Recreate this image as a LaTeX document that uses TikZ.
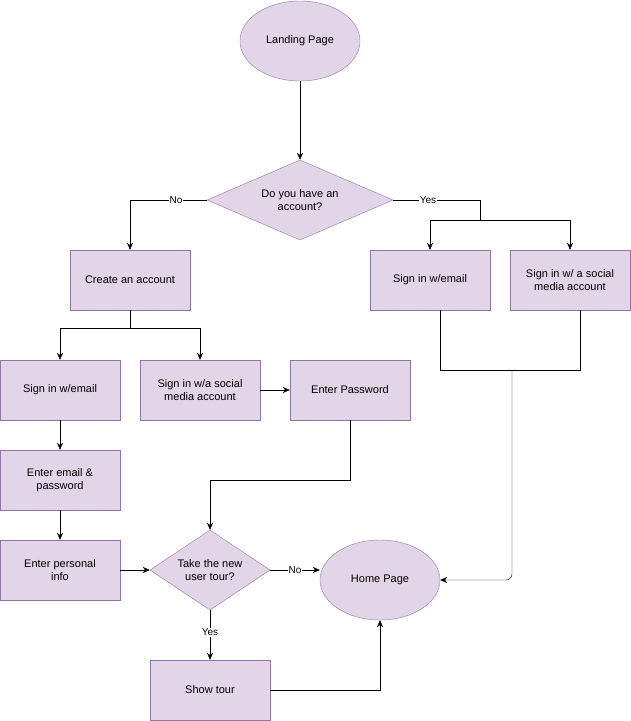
\documentclass[tikz,border=0pt]{standalone}
\usepackage{fontspec}
\setmainfont{Liberation Sans}
\usetikzlibrary{shapes.geometric,positioning,calc,arrows.meta}

\definecolor{boxfill}{HTML}{E1D5E7}
\definecolor{boxline}{HTML}{9673A6}

\tikzset{
  base/.style={draw=boxline, fill=boxfill, align=center, font=\fontsize{11}{13}\selectfont},
  box/.style={base, rectangle, minimum width=120pt, minimum height=60pt, inner sep=2pt},
  term/.style={base, ellipse, minimum width=120pt, minimum height=80pt},
  ask/.style={base, diamond, aspect=1.5, inner sep=0pt},
  link/.style={draw, -{Stealth[length=7pt,width=6pt]}},
  tag/.style={fill=white, inner sep=1pt, font=\fontsize{10}{12}\selectfont}
}

\begin{document}
\begin{tikzpicture}[x=1pt, y=-1pt]
  \useasboundingbox (0,0) rectangle (631,721);

  % nodes
  \node[term] (land) at (300,41) {Landing Page};
  \node[ask, minimum width=186pt, minimum height=80pt] (have) at (300,200) {Do you have an\\account?};
  \node[box] (create) at (130,280) {Create an account};
  \node[box] (inmail) at (430,280) {Sign in w/email};
  \node[box] (insocial) at (570,280) {Sign in w/ a social\\media account};
  \node[box] (newmail) at (60,390) {Sign in w/email};
  \node[box] (newsocial) at (200,390) {Sign in w/a social\\media account};
  \node[box] (pass) at (350,390) {Enter Password};
  \node[box] (email) at (60,480) {Enter email \&\\password};
  \node[box] (info) at (60,570) {Enter personal\\info};
  \node[ask, minimum width=120pt, minimum height=80pt] (tour) at (210,570) {Take the new\\user tour?};
  \node[term] (home) at (380,580) {Home Page};
  \node[box] (show) at (210,690) {Show tour};

  % connectors
  \draw[link] (land) -- (have);
  \draw[link] (have.west) -| node[tag, pos=0.2] {No} (create.north);
  \draw (have.east) -| node[tag, pos=0.2] {Yes} (480,220) coordinate (split);
  \draw[link] (split) -| (inmail.north);
  \draw[link] (split) -| (insocial.north);
  \draw (create.south) -- (130,328) coordinate (fork);
  \draw[link] (fork) -| (newmail.north);
  \draw[link] (fork) -| (newsocial.north);
  \draw (inmail.south -| 440,0) |- (580,370) -- (insocial.south -| 580,0);
  \draw[link, rounded corners=6pt] (512,370) |- (home.east);
  \draw[link] (newsocial) -- (pass);
  \draw[link] (pass.south) |- (210,480) -- (tour.north);
  \draw[link] (newmail) -- (email);
  \draw[link] (email) -- (info);
  \draw[link] (info) -- (tour);
  \draw[link] (tour.east) -- node[tag] {No} (home.west |- tour.east);
  \draw[link] (tour) -- node[tag, pos=0.45] {Yes} (show);
  \draw[link] (show.east) -| (home.south);
\end{tikzpicture}
\end{document}
